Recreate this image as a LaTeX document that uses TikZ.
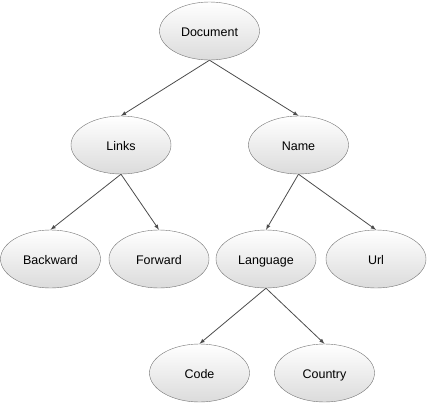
\documentclass[tikz,border=0pt]{standalone}
\usepackage{fontspec}
\setmainfont{Liberation Sans}
\usepackage{tikz}
\usetikzlibrary{arrows,shapes}
\tikzstyle{cloud} = [draw=black!55, ellipse, top color=white, bottom color=black!14,
    minimum width=100pt, minimum height=58pt, inner sep=0pt, text height=10pt, text depth=0pt,
    font=\fontsize{12.5}{14}\selectfont]
\tikzstyle{edge} = [-latex, draw=black!70, thick]

\begin{document}
\begin{tikzpicture}[x=1pt, y=-1pt]
  \useasboundingbox (0,0) rectangle (429,407);
  % Place nodes
  \node [cloud] (doc) at (209.5,31) {Document};
  \node [cloud] (links) at (121,145) {Links};
  \node [cloud] (name) at (298.5,145) {Name};
  \node [cloud] (back) at (50.5,259) {Backward};
  \node [cloud] (fwd) at (159,259) {Forward};
  \node [cloud] (lang) at (266,259) {Language};
  \node [cloud] (url) at (376,259) {Url};
  \node [cloud] (code) at (199.5,373) {Code};
  \node [cloud] (country) at (324.5,373) {Country};
  % Draw edges
  \draw [edge] (doc.south) -- (links.north);
  \draw [edge] (doc.south) -- (name.north);
  \draw [edge] (links.south) -- (back.north);
  \draw [edge] (links.south) -- (fwd.north);
  \draw [edge] (name.south) -- (lang.north);
  \draw [edge] (name.south) -- (url.north);
  \draw [edge] (lang.south) -- (code.north);
  \draw [edge] (lang.south) -- (country.north);
\end{tikzpicture}
\end{document}
